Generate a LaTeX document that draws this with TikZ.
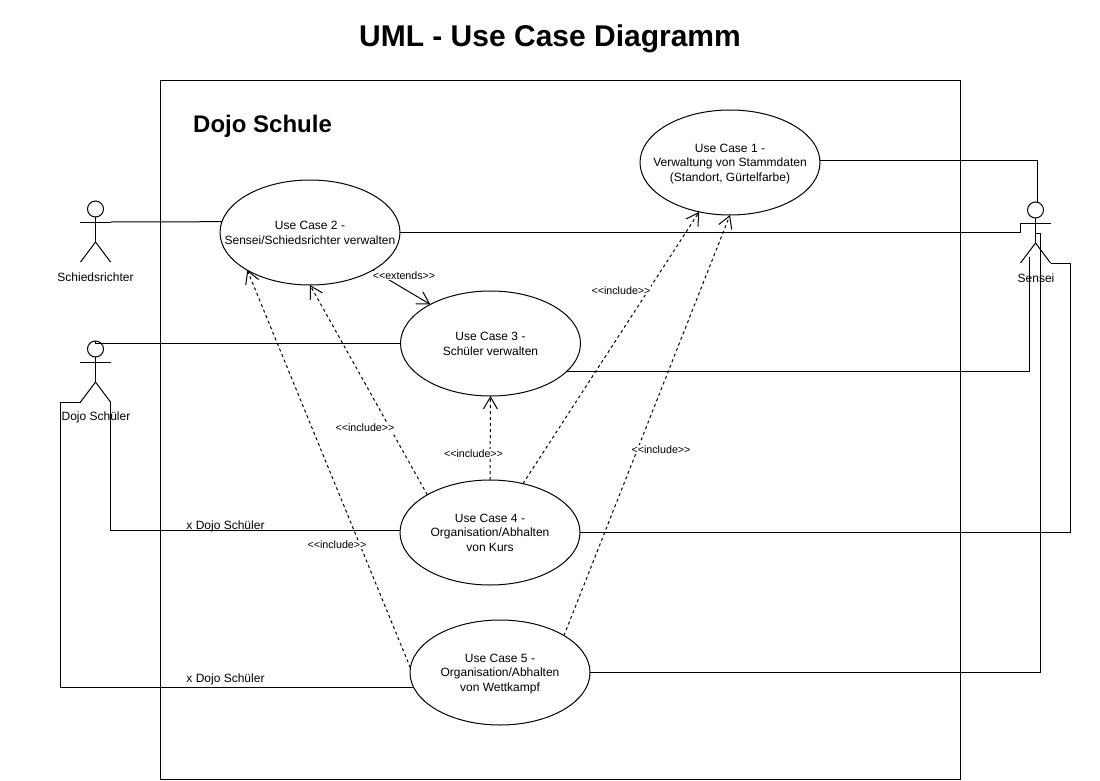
\documentclass[tikz,border=0pt]{standalone}
\usepackage{fontspec}
\setmainfont{Liberation Sans}
\usetikzlibrary{shapes.geometric,positioning,arrows.meta}
\newcommand{\stereotype}[1]{<{}<#1>{}>}
\newcommand{\uctext}[1]{\makebox[0pt]{\raisebox{-4.5pt}[0pt][0pt]{\begin{tabular}{@{}c@{}}#1\end{tabular}}}}
\tikzstyle{usecase} = [ellipse, draw=black, line width=1pt, inner sep=0pt, outer sep=0pt, minimum width=180pt, minimum height=105pt, font=\fontsize{12}{14.5}\selectfont]
\tikzstyle{frame} = [rectangle, draw=black, line width=1pt, inner sep=0pt, outer sep=0pt, minimum width=800pt, minimum height=699pt, anchor=north west]
\tikzstyle{assoc} = [draw=black, line width=1pt]
\tikzstyle{incl} = [draw=black, line width=1pt, dash pattern=on 3pt off 3pt, -{Straight Barb[length=12pt,width=14pt]}]
\tikzstyle{ext} = [draw=black, line width=1pt, -{Straight Barb[length=12pt,width=14pt]}]
\tikzstyle{stereo} = [fill=white, inner sep=1pt, font=\fontsize{10.7}{12}\selectfont]
\tikzstyle{plain} = [inner sep=0pt, font=\fontsize{12}{14}\selectfont]
\tikzset{
 actor/.pic = {
  \node (-head) [circle, draw=black, line width=1pt, minimum size=16pt, inner sep=0pt, outer sep=0pt] at (0,0) {};
  \coordinate (-handl) at (-15.5,13);
  \coordinate (-handr) at (15.5,13);
  \coordinate (-hip) at (0,33);
  \coordinate (-footl) at (-15,53);
  \coordinate (-footr) at (15,53);
  \draw [assoc] (-head.south) -- (-hip);
  \draw [assoc] (-handl) -- (-handr);
  \draw [assoc] (-footl) -- (-hip) -- (-footr);
 }
}
\begin{document}
\begin{tikzpicture}[x=1pt, y=-1pt]
\useasboundingbox (0,0) rectangle (1100,781);
\node (title) [inner sep=0pt, font=\fontsize{30}{34}\selectfont\bfseries] at (550,38.5) {UML - Use Case Diagramm};
\node (schule) [frame] at (160.5,80.5) {};
\node (schulename) [inner sep=0pt, anchor=west, font=\fontsize{24}{28}\selectfont\bfseries] at (193,126) {Dojo Schule};
% use cases
\node (uc1) [usecase] at (730,162.5) {\uctext{Use Case 1 -\\Verwaltung von Stammdaten\\(Standort, Gürtelfarbe)}};
\node (uc2) [usecase] at (310,232.5) {\uctext{Use Case 2 -\\Sensei/Schiedsrichter verwalten}};
\node (uc3) [usecase] at (490.5,343.5) {\uctext{Use Case 3 -\\Schüler verwalten}};
\node (uc4) [usecase] at (490,532.5) {\uctext{Use Case 4 -\\Organisation/Abhalten\\von Kurs}};
\node (uc5) [usecase] at (500,672.5) {\uctext{Use Case 5 -\\Organisation/Abhalten\\von Wettkampf}};
% actors
\pic (schied) at (95.5,209) {actor};
\pic (dojo) at (95.5,349) {actor};
\pic (sensei) at (1035.5,210) {actor};
\node (schiedname) [plain] at (95.5,277) {Schiedsrichter};
\node (dojoname) [plain] at (96,417.5) {Dojo Schüler};
\node (senseiname) [plain] at (1036,278) {Sensei};
\coordinate (sensei3) at (1029,256.5);
\coordinate (sensei4) at (1070.5,263);
\coordinate (sensei5) at (1040.5,233.5);
\coordinate (dojo5) at (60.5,402);
% associations
\draw [assoc] (schied-handr) -- (uc2.173);
\draw [assoc] (uc1.east) ++(0,-2) -| (sensei-head.75);
\draw [assoc] (uc2.east) -| (sensei-handl);
\draw [assoc] (uc3.-20) -| (sensei3);
\draw [assoc] (uc4.east) -| (sensei4) -- (sensei-footr);
\draw [assoc] (uc5.east) -| (sensei5) -- (sensei5 -| sensei-hip);
\draw [assoc] (uc3.west) -| (dojo-head.north);
\draw [assoc] (uc4.179) -| (dojo-footr);
\draw [assoc] (uc5.190) -| (dojo5) -- (dojo-footl);
% include and extends
\draw [incl] (uc4.149) -- (uc2.south);
\draw [incl] (uc4.north) -- (uc3.south);
\draw [incl] (uc4.56) -- (uc1.-122);
\draw [incl] (uc5.30) -- (uc1.south);
\draw [incl] (uc5.177) -- (uc2.211);
\draw [ext] (uc2.-31) -- (uc3.147);
\node (extlabel) [stereo] at (404,275.5) {\stereotype{extends}};
\node (inclA) [stereo] at (621,290.5) {\stereotype{include}};
\node (inclB) [stereo] at (365,427.5) {\stereotype{include}};
\node (inclC) [stereo] at (473.5,453.5) {\stereotype{include}};
\node (inclD) [stereo] at (661,449.5) {\stereotype{include}};
\node (inclE) [stereo] at (337,544.5) {\stereotype{include}};
\node (xdojoA) [plain] at (225.5,526.5) {x Dojo Schüler};
\node (xdojoB) [plain] at (225.5,679.5) {x Dojo Schüler};
\end{tikzpicture}
\end{document}
